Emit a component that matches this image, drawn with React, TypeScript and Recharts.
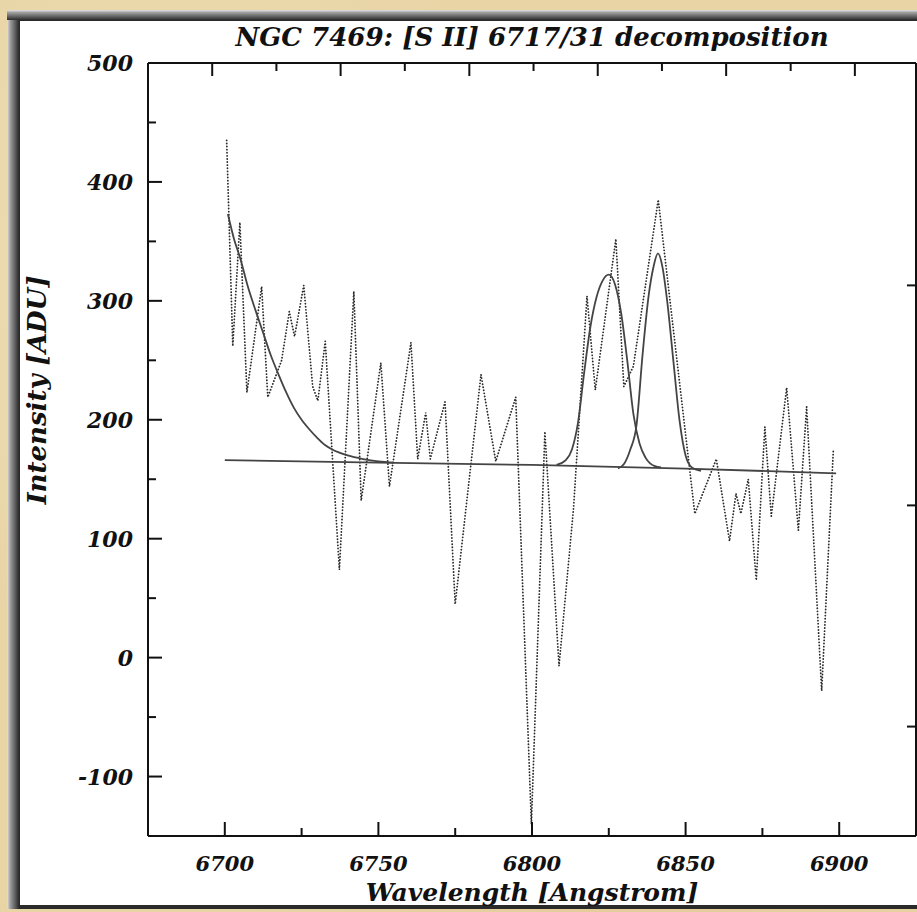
import React from 'react';
import { LineChart, Line, XAxis, YAxis } from 'recharts';

// observed spectrum (dotted)
const obsWave = [6700.6, 6702.6, 6704.9, 6707.2, 6712.0, 6714.0, 6718.5, 6721.0, 6722.7, 6725.7, 6728.6, 6730.3, 6732.7, 6737.3, 6742.0, 6744.4, 6750.8, 6753.6, 6760.6, 6762.8, 6765.4, 6766.9, 6771.7, 6775.0, 6783.4, 6788.2, 6794.7, 6799.8, 6804.2, 6808.8, 6813.5, 6817.9, 6820.6, 6827.3, 6829.9, 6833.0, 6841.1, 6853.0, 6860.0, 6864.3, 6866.4, 6868.0, 6870.4, 6873.0, 6875.8, 6877.9, 6882.9, 6886.7, 6889.4, 6894.3, 6898.1];
const obsFlux = [435, 262, 366, 223, 312, 219, 250, 291, 270, 313, 228, 216, 266, 74, 308, 132, 248, 144, 265, 167, 206, 167, 215, 45, 238, 165, 219, -140, 190, -7, 125, 304, 225, 352, 228, 245, 385, 121, 167, 98, 138, 121, 150, 65, 194, 119, 227, 107, 211, -28, 175];

// fit components
const contWave = [6700, 6750, 6800, 6850, 6899];
const contFlux = [166, 164, 162, 159, 155];

const blueWave = [6701, 6703, 6705, 6707.5, 6710, 6712.5, 6715, 6717.5, 6720, 6722.5, 6725, 6727.5, 6730, 6732.5, 6735, 6740, 6745, 6750, 6755];
const blueFlux = [373, 352, 336, 312, 292, 273, 254, 238, 223, 210, 200, 192, 185, 179, 175, 170, 167, 165, 164];

const line1Wave = [6808, 6811, 6813, 6815, 6817, 6819, 6821, 6823, 6825, 6827, 6829, 6831, 6833, 6835, 6837, 6840, 6842];
const line1Flux = [162, 166, 175, 198, 240, 278, 303, 317, 322, 314, 290, 250, 205, 180, 168, 161, 160];

const line2Wave = [6828, 6830, 6832, 6834, 6836, 6838, 6839.5, 6841, 6842.5, 6844, 6846, 6848, 6850, 6852, 6855];
const line2Flux = [159, 163, 175, 195, 255, 305, 328, 340, 328, 300, 250, 200, 170, 160, 157];

const xTicks = [6700, 6725, 6750, 6775, 6800, 6825, 6850, 6875, 6900];
const yTicks = [-100, -50, 0, 50, 100, 150, 200, 250, 300, 350, 400, 450, 500];
const topTicks = [6695.9, 6716.8, 6737.7, 6758.6, 6779.6, 6800.5, 6821.4, 6842.3, 6863.2, 6884.2, 6905.1];
const rightTicks = [313, 128, -58];

const pts = (xs: number[], ys: number[]) => xs.map((x, i) => ({ x, y: ys[i] }));

const font = {
  fontFamily: '"DejaVu Serif", serif',
  fontWeight: 'bold' as const,
  fontStyle: 'italic' as const,
  fill: '#111',
};
const INK = '#111';

const BottomTick = (props: any) => {
  const { x, y, payload } = props;
  const major = payload.value % 50 === 0;
  return (
    <g>
      <line x1={x} x2={x} y1={y} y2={y - (major ? 14 : 8)} stroke={INK} strokeWidth={2} />
      {major && (
        <text x={x} y={y + 35} textAnchor="middle" fontSize={21} {...font}>
          {payload.value}
        </text>
      )}
    </g>
  );
};

const TopTick = (props: any) => {
  const { x, y, index } = props;
  return <line x1={x} x2={x} y1={y} y2={y + (index % 2 === 0 ? 13 : 8)} stroke={INK} strokeWidth={2} />;
};

const LeftTick = (props: any) => {
  const { x, y, payload } = props;
  const major = payload.value % 100 === 0;
  return (
    <g>
      <line x1={x} x2={x + (major ? 14 : 8)} y1={y} y2={y} stroke={INK} strokeWidth={2} />
      {major && (
        <text x={x - 15} y={y + 8} textAnchor="end" fontSize={22} {...font}>
          {payload.value}
        </text>
      )}
    </g>
  );
};

const RightTick = (props: any) => {
  const { x, y } = props;
  return <line x1={x} x2={x - 9} y1={y} y2={y} stroke={INK} strokeWidth={2} />;
};

const labelStyle: React.CSSProperties = {
  position: 'absolute',
  fontFamily: '"DejaVu Serif", serif',
  fontWeight: 'bold',
  fontStyle: 'italic',
  fontSize: 26,
  color: '#111',
  whiteSpace: 'nowrap',
  transform: 'translate(-50%, -50%)',
  lineHeight: 1,
};

export default function App() {
  const axisLine = { stroke: INK, strokeWidth: 2 };
  return (
    <div
      style={{
        position: 'relative',
        width: 917,
        height: 912,
        overflow: 'hidden',
        background:
          'radial-gradient(circle at 20% 30%, #efdfb8 0, transparent 40%), radial-gradient(circle at 70% 80%, #e2c994 0, transparent 45%), #e8d4a5',
      }}
    >
      <style>{'body{margin:0}'}</style>
      {/* picture frame */}
      <div style={{ position: 'absolute', left: 7, top: 10, width: 920, height: 899, background: '#2a2a2a' }} />
      <div
        style={{
          position: 'absolute', left: 7, top: 10, width: 12, height: 899,
          background: 'linear-gradient(to right, #e4e4e4, #a0a0a0 25%, #5a5a5a 70%, #2a2a2a)',
        }}
      />
      <div
        style={{
          position: 'absolute', left: 7, top: 10, width: 920, height: 10,
          background: 'linear-gradient(to bottom, #e4e4e4, #a0a0a0 25%, #5a5a5a 70%, #2a2a2a)',
        }}
      />
      <div style={{ position: 'absolute', left: 20, top: 21, width: 910, height: 884, background: '#fff' }} />

      <div style={{ position: 'absolute', left: 0, top: 0 }}>
        <LineChart width={917} height={912} margin={{ top: 0, right: 0, bottom: 0, left: 0 }}>
          <XAxis
            xAxisId="bottom"
            dataKey="x"
            type="number"
            domain={[6675, 6925]}
            allowDataOverflow
            ticks={xTicks}
            interval={0}
            height={76}
            tickSize={0}
            tickMargin={0}
            tickLine={false}
            axisLine={axisLine}
            tick={<BottomTick />}
          />
          <XAxis
            xAxisId="top"
            orientation="top"
            dataKey="x"
            type="number"
            domain={[6675, 6925]}
            allowDataOverflow
            ticks={topTicks}
            interval={0}
            height={63}
            tickSize={0}
            tickMargin={0}
            tickLine={false}
            axisLine={axisLine}
            tick={<TopTick />}
          />
          <YAxis
            yAxisId="left"
            type="number"
            domain={[-150, 500]}
            allowDataOverflow
            ticks={yTicks}
            interval={0}
            width={148}
            tickSize={0}
            tickMargin={0}
            tickLine={false}
            axisLine={axisLine}
            tick={<LeftTick />}
          />
          <YAxis
            yAxisId="right"
            orientation="right"
            type="number"
            domain={[-150, 500]}
            allowDataOverflow
            ticks={rightTicks}
            interval={0}
            width={1}
            tickSize={0}
            tickMargin={0}
            tickLine={false}
            axisLine={axisLine}
            tick={<RightTick />}
          />
          <Line
            xAxisId="bottom"
            yAxisId="left"
            data={pts(obsWave, obsFlux)}
            dataKey="y"
            type="linear"
            stroke="#2a2a2a"
            strokeWidth={1.8}
            strokeDasharray="0.1 3"
            strokeLinecap="round"
            dot={false}
            isAnimationActive={false}
          />
          <Line
            xAxisId="bottom"
            yAxisId="left"
            data={pts(contWave, contFlux)}
            dataKey="y"
            type="linear"
            stroke="#444"
            strokeWidth={1.8}
            dot={false}
            isAnimationActive={false}
          />
          <Line
            xAxisId="bottom"
            yAxisId="left"
            data={pts(blueWave, blueFlux)}
            dataKey="y"
            type="monotone"
            stroke="#444"
            strokeWidth={1.8}
            dot={false}
            isAnimationActive={false}
          />
          <Line
            xAxisId="bottom"
            yAxisId="left"
            data={pts(line1Wave, line1Flux)}
            dataKey="y"
            type="monotone"
            stroke="#444"
            strokeWidth={1.8}
            dot={false}
            isAnimationActive={false}
          />
          <Line
            xAxisId="bottom"
            yAxisId="left"
            data={pts(line2Wave, line2Flux)}
            dataKey="y"
            type="monotone"
            stroke="#444"
            strokeWidth={1.8}
            dot={false}
            isAnimationActive={false}
          />
        </LineChart>
      </div>

      <div style={{ ...labelStyle, left: 532, top: 37 }}>NGC 7469: [S II] 6717/31 decomposition</div>
      <div style={{ ...labelStyle, left: 532, top: 892, fontSize: 25 }}>Wavelength [Angstrom]</div>
      <div style={{ ...labelStyle, left: 37, top: 390, transform: 'translate(-50%, -50%) rotate(-90deg)' }}>
        Intensity [ADU]
      </div>
    </div>
  );
}
